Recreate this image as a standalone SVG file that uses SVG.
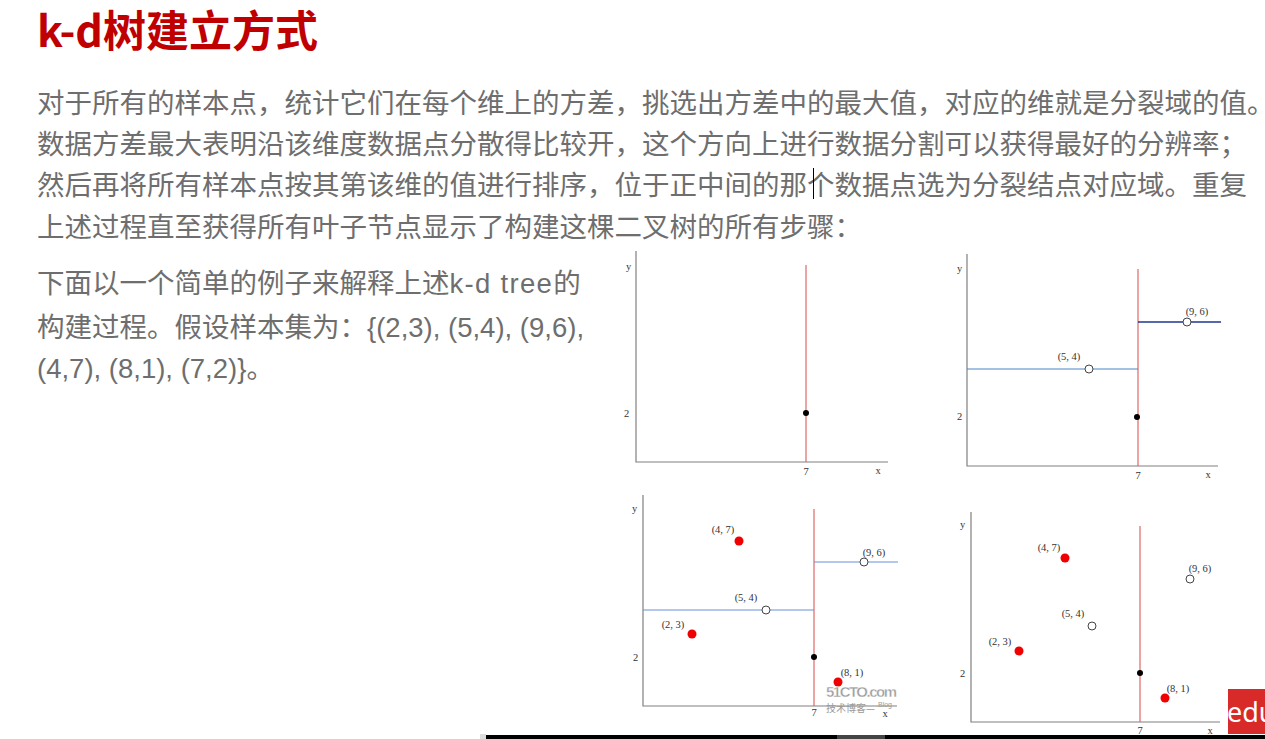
<svg xmlns="http://www.w3.org/2000/svg" width="1265" height="739" viewBox="0 0 1265 739">
<style>
.title{font-family:"Noto Sans CJK SC","Noto Sans",sans-serif;font-weight:bold;font-size:43px;fill:#c00000}
.body{font-family:"Noto Sans CJK SC","Noto Sans",sans-serif;font-size:27.5px;fill:#6e6e6e}
.lat{font-family:"Liberation Sans","Noto Sans CJK SC",sans-serif;font-size:27.5px}
.ax{stroke:#808080;stroke-width:1.2;fill:none}
.split{stroke:#e06666;stroke-width:1.2;fill:none}
.lb{stroke:#6b8fd9;stroke-width:1.2;fill:none}
.db{stroke:#1e3490;stroke-width:1.4;fill:none}
.lbl{font-family:"Liberation Serif","DejaVu Serif",serif;font-size:10.5px;fill:#333}
.c{text-anchor:middle}
.open{fill:#fff;stroke:#444;stroke-width:1}
.red{fill:#f00000}
.blk{fill:#000}
</style>
<rect width="1265" height="739" fill="#fff"/>
<g id="title"><text class="title" x="37" y="47">k-d树建立方式</text></g>
<g id="paragraph">
<text class="body" x="37" y="113">对于所有的样本点，统计它们在每个维上的方差，挑选出方差中的最大值，对应的维就是分裂域的值。</text>
<text class="body" x="37" y="154">数据方差最大表明沿该维度数据点分散得比较开，这个方向上进行数据分割可以获得最好的分辨率；</text>
<text class="body" x="37" y="195">然后再将所有样本点按其第该维的值进行排序，位于正中间的那个数据点选为分裂结点对应域。重复</text>
<text class="body" x="37" y="237">上述过程直至获得所有叶子节点显示了构建这棵二叉树的所有步骤：</text>
<line x1="813.5" y1="168" x2="813.5" y2="199" stroke="#000" stroke-width="1"/>
</g>
<g id="example">
<text class="body" x="37" y="293">下面以一个简单的例子来解释上述<tspan class="lat" letter-spacing="1.3">k-d tree</tspan>的</text>
<text class="body" x="37" y="337">构建过程。假设样本集为：<tspan class="lat">{(2,3), (5,4), (9,6),</tspan></text>
<text class="body" x="37" y="378"><tspan class="lat">(4,7), (8,1), (7,2)}</tspan>。</text>
</g>
<g id="plot1">
<path class="ax" d="M636 251V462H888"/>
<line class="split" x1="806" y1="265" x2="806" y2="462"/>
<circle class="blk" cx="806" cy="413" r="3"/>
<text class="lbl" x="626" y="270">y</text>
<text class="lbl" x="624" y="417">2</text>
<text class="lbl c" x="806" y="475">7</text>
<text class="lbl c" x="878" y="474">x</text>
</g>
<g id="plot2">
<path class="ax" d="M967 254V466H1218"/>
<line class="split" x1="1138" y1="269" x2="1138" y2="466"/>
<line class="lb" x1="967" y1="369" x2="1138" y2="369" style="stroke:#4a86c8"/>
<line class="db" x1="1138" y1="322" x2="1221" y2="322"/>
<circle class="open" cx="1089" cy="369" r="4"/>
<circle class="open" cx="1187" cy="322" r="4"/>
<circle class="blk" cx="1137" cy="417" r="3"/>
<text class="lbl c" x="1069" y="360">(5, 4)</text>
<text class="lbl c" x="1197" y="315">(9, 6)</text>
<text class="lbl" x="957" y="272">y</text>
<text class="lbl" x="957" y="420">2</text>
<text class="lbl c" x="1138" y="479">7</text>
<text class="lbl c" x="1208" y="478">x</text>
</g>
<g id="plot3">
<path class="ax" d="M643 495V706H897"/>
<line class="split" x1="814" y1="509" x2="814" y2="706"/>
<line class="lb" x1="643" y1="610" x2="814" y2="610"/>
<line class="lb" x1="814" y1="562" x2="898" y2="562"/>
<circle class="open" cx="766" cy="610" r="4"/>
<circle class="open" cx="864" cy="562" r="4"/>
<circle class="red" cx="739" cy="541" r="4.5"/>
<circle class="red" cx="692" cy="634" r="4.5"/>
<circle class="red" cx="838" cy="682" r="4.5"/>
<circle class="blk" cx="814" cy="657" r="3"/>
<text class="lbl c" x="723" y="533">(4, 7)</text>
<text class="lbl c" x="874" y="556">(9, 6)</text>
<text class="lbl c" x="746" y="601">(5, 4)</text>
<text class="lbl c" x="673" y="628">(2, 3)</text>
<text class="lbl c" x="852" y="676">(8, 1)</text>
<text class="lbl" x="632" y="512">y</text>
<text class="lbl" x="633" y="661">2</text>
<text class="lbl c" x="814" y="716">7</text>
<text class="lbl c" x="885" y="717">x</text>
<text x="826" y="697" font-family="'Liberation Sans Narrow','Liberation Sans',sans-serif" font-weight="bold" font-size="15" fill="#9a9a9a" stroke="#fff" stroke-width="0.4" textLength="71">51CTO.com</text>
<text x="826" y="712" font-family="'Noto Sans CJK SC',sans-serif" font-size="10" fill="#9a9a9a">技术博客—</text>
<text x="878" y="707" font-family="'Liberation Sans',sans-serif" font-size="7" fill="#9a9a9a">Blog</text>
</g>
<g id="plot4">
<path class="ax" d="M971 512V722H1220"/>
<line class="split" x1="1140" y1="526" x2="1140" y2="722"/>
<circle class="red" cx="1065" cy="558" r="4.5"/>
<circle class="red" cx="1019" cy="651" r="4.5"/>
<circle class="red" cx="1165" cy="698" r="4.5"/>
<circle class="open" cx="1092" cy="626" r="4"/>
<circle class="open" cx="1190" cy="579" r="4"/>
<circle class="blk" cx="1140" cy="673" r="3"/>
<text class="lbl c" x="1049" y="551">(4, 7)</text>
<text class="lbl c" x="1200" y="572">(9, 6)</text>
<text class="lbl c" x="1073" y="617">(5, 4)</text>
<text class="lbl c" x="1000" y="645">(2, 3)</text>
<text class="lbl c" x="1178" y="692">(8, 1)</text>
<text class="lbl" x="960" y="528">y</text>
<text class="lbl" x="960" y="677">2</text>
<text class="lbl c" x="1140" y="734">7</text>
<text class="lbl c" x="1210" y="734">x</text>
</g>
<g id="edu">
<rect x="1228" y="689" width="37" height="45" fill="#d92a2a"/>
<text x="1227" y="722" font-family="'Noto Sans','Open Sans',sans-serif" font-size="27" fill="#fff">edu</text>
</g>
<g id="bottombar">
<rect x="486" y="735" width="779" height="4" fill="#000"/>
<rect x="837" y="735" width="48" height="4" fill="#444"/>
<rect x="480" y="734" width="6" height="5" fill="#ddd"/>
</g>
</svg>
